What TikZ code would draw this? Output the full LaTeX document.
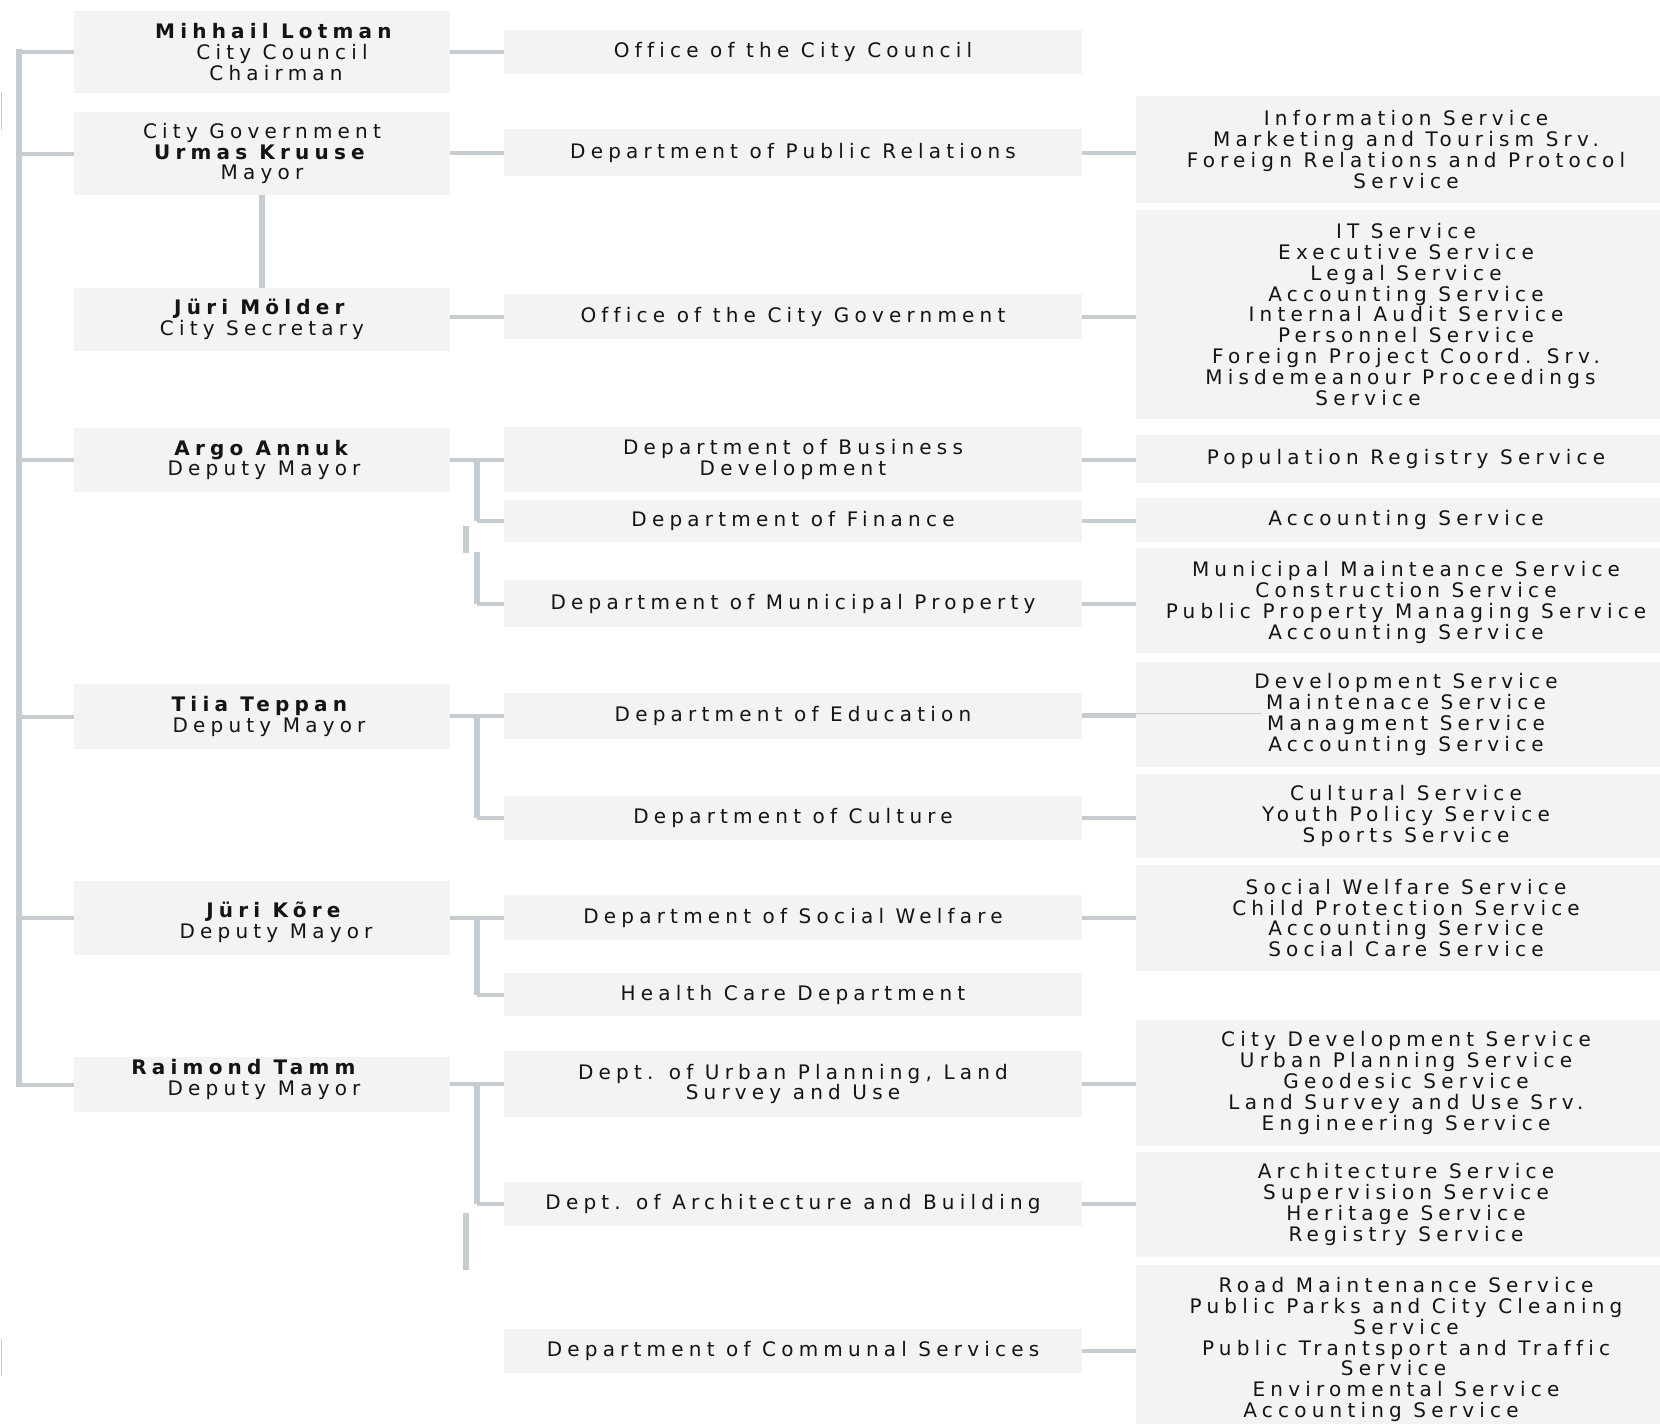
\documentclass[tikz,border=0pt]{standalone}
\usepackage{fontspec}
\setmainfont{DejaVu Sans}[LetterSpace=26, Ligatures=NoCommon]
\definecolor{boxfill}{HTML}{F3F3F3}
\definecolor{linec}{HTML}{C6CCD0}
\definecolor{txt}{HTML}{141414}
\newcommand\shft[2]{\hspace*{#1}#2\hspace*{-#1}}
\begin{document}
\begin{tikzpicture}[x=1pt,y=-1pt,
  font=\fontsize{20}{20.8}\selectfont,
  bx/.style={fill=boxfill, draw=none, inner sep=0pt},
  c1/.style={bx, minimum width=376pt},
  c2/.style={bx, minimum width=578pt},
  c3/.style={bx, minimum width=524pt},
  tx/.style={align=center, inner sep=0pt, text=txt},
  ln/.style={draw=linec, line width=4pt},
  vln/.style={draw=linec, line width=5.5pt},
  thin/.style={draw=linec, line width=1pt}]
\useasboundingbox (0,0) rectangle (1660,1424);
\fill[white] (0,0) rectangle (1660,1424);

% ---------- column 1
\node[c1, minimum height=82pt] (lotman) at (262,52) {};
\node[c1, minimum height=83pt] (citygov) at (262,153.5) {};
\node[c1, minimum height=63pt] (molder) at (262,319.5) {};
\node[c1, minimum height=64pt] (argo) at (262,460) {};
\node[c1, minimum height=65pt] (tiia) at (262,716.5) {};
\node[c1, minimum height=74pt] (kore) at (262,918) {};
\node[c1, minimum height=55pt] (tamm) at (262,1084.5) {};

\node[tx] (lotman-t) at ([xshift=14pt]lotman.center) {\textbf{Mihhail Lotman}\\\shft{12pt}{City Council}\\Chairman};
\node[tx] (citygov-t) at (citygov.center) {City Government\\\textbf{Urmas Kruuse}\\Mayor};
\node[tx] (molder-t) at (molder.center) {\textbf{Jüri Mölder}\\City Secretary};
\node[tx] (argo-t) at ([xshift=2pt]argo.center) {\textbf{Argo Annuk}\\Deputy Mayor};
\node[tx] (tiia-t) at (tiia.center) {\textbf{Tiia Teppan}\\\shft{7pt}{Deputy Mayor}};
\node[tx] (kore-t) at ([xshift=14pt,yshift=-4pt]kore.center) {\textbf{Jüri Kõre}\\Deputy Mayor};
\node[tx] (tamm-t) at ([xshift=2pt,yshift=5pt]tamm.center) {\shft{-18pt}{\textbf{Raimond Tamm}}\\Deputy Mayor};

% ---------- column 2
\node[c2, minimum height=44pt, tx] (occ) at (793,52) {Office of the City Council};
\node[c2, minimum height=47pt, tx] (dpr) at (793,152.5) {Department of Public Relations};
\node[c2, minimum height=45pt, tx] (ocg) at (793,316.5) {Office of the City Government};
\node[c2, minimum height=65pt, tx] (dbd) at (793,459.5) {Department of Business\\Development};
\node[c2, minimum height=42pt, tx] (df) at (793,521) {Department of Finance};
\node[c2, minimum height=47pt, tx] (dmp) at (793,603.5) {Department of Municipal Property};
\node[c2, minimum height=46pt, tx] (de) at (793,716) {Department of Education};
\node[c2, minimum height=44pt, tx] (dc) at (793,818) {Department of Culture};
\node[c2, minimum height=45pt, tx] (dsw) at (793,917.5) {Department of Social Welfare};
\node[c2, minimum height=43pt, tx] (hc) at (793,994.5) {Health Care Department};
\node[c2, minimum height=66pt, tx] (dup) at (793,1084) {Dept. of Urban Planning, Land\\Survey and Use};
\node[c2, minimum height=44pt, tx] (dab) at (793,1204) {Dept. of Architecture and Building};
\node[c2, minimum height=44pt, tx] (dcs) at (793,1351) {Department of Communal Services};

% ---------- column 3
\node[c3, minimum height=107pt] (info) at (1398,149.5) {};
\node[c3, minimum height=209pt] (it) at (1398,314.5) {};
\node[c3, minimum height=48pt] (pop) at (1398,459) {};
\node[c3, minimum height=44pt] (acc) at (1398,520) {};
\node[c3, minimum height=105pt] (mm) at (1398,600.5) {};
\node[c3, minimum height=105pt] (dev) at (1398,714.5) {};
\node[c3, minimum height=84pt] (cult) at (1398,816) {};
\node[c3, minimum height=106pt] (sw) at (1398,918) {};
\node[c3, minimum height=126pt] (cd) at (1398,1083) {};
\node[c3, minimum height=105pt] (arch) at (1398,1204.5) {};
\node[c3, minimum height=159pt] (road) at (1398,1344.5) {};

\node[tx] (info-t) at ([xshift=8pt]info.center) {Information Service\\Marketing and Tourism Srv.\\Foreign Relations and Protocol\\Service};
\node[tx] (it-t) at ([xshift=8pt]it.center) {IT Service\\Executive Service\\Legal Service\\Accounting Service\\Internal Audit Service\\Personnel Service\\Foreign Project Coord. Srv.\\\shft{-11pt}{Misdemeanour Proceedings}\\\shft{-38pt}{Service}};
\node[tx] (pop-t) at ([xshift=8pt]pop.center) {Population Registry Service};
\node[tx] (acc-t) at ([xshift=8pt]acc.center) {Accounting Service};
\node[tx] (mm-t) at ([xshift=8pt,yshift=-2pt]mm.center) {Municipal Mainteance Service\\Construction Service\\Public Property Managing Service\\Accounting Service};
\node[tx] (dev-t) at ([xshift=8pt]dev.center) {Development Service\\Maintenace Service\\Managment Service\\Accounting Service};
\node[tx] (cult-t) at ([xshift=8pt]cult.center) {Cultural Service\\Youth Policy Service\\Sports Service};
\node[tx] (sw-t) at ([xshift=8pt]sw.center) {Social Welfare Service\\Child Protection Service\\Accounting Service\\Social Care Service};
\node[tx] (cd-t) at ([xshift=8pt]cd.center) {City Development Service\\Urban Planning Service\\Geodesic Service\\Land Survey and Use Srv.\\Engineering Service};
\node[tx] (arch-t) at ([xshift=8pt]arch.center) {Architecture Service\\Supervision Service\\Heritage Service\\Registry Service};
\node[tx] (road-t) at ([xshift=8pt,yshift=-5pt]road.center) {Road Maintenance Service\\Public Parks and City Cleaning\\Service\\Public Trantsport and Traffic\\\shft{-25pt}{Service}\\Enviromental Service\\\shft{-25pt}{Accounting Service}};

% ---------- connectors
\coordinate (trunk) at (19,0);
\coordinate (bx) at (477,0);
\draw[vln, line cap=rect] (lotman.west -| trunk) -- (tamm.west -| trunk);
\foreach \n in {lotman,citygov,argo,tiia,kore,tamm}
  \draw[ln] (\n.west) -- (\n.west -| trunk);
\draw[vln] (citygov.south) -- (molder.north);

\draw[ln] (occ.west -| lotman.east) -- (occ.west);
\draw[ln] (dpr.west -| citygov.east) -- (dpr.west);
\draw[ln] (ocg.west -| molder.east) -- (ocg.west);

% Argo Annuk
\draw[ln] (dbd.west -| argo.east) -- (dbd.west);
\draw[vln] (dbd.west -| bx) -- (df.west -| bx);
\draw[ln] (df.west -| bx) -- (df.west);
\coordinate (s1a) at (466,526);
\coordinate (s1b) at (466,553);
\draw[vln] (s1a) -- (s1b);
\coordinate (s1c) at (477,552);
\draw[vln] (s1c) -- (dmp.west -| bx);
\draw[ln] (dmp.west -| bx) -- (dmp.west);

% Tiia Teppan
\draw[ln] (de.west -| tiia.east) -- (de.west);
\draw[vln] (de.west -| bx) -- (dc.west -| bx);
\draw[ln] (dc.west -| bx) -- (dc.west);

% Juri Kore
\draw[ln] (dsw.west -| kore.east) -- (dsw.west);
\draw[vln] (dsw.west -| bx) -- (hc.west -| bx);
\draw[ln] (hc.west -| bx) -- (hc.west);

% Raimond Tamm
\draw[ln] (dup.west -| tamm.east) -- (dup.west);
\draw[vln] (dup.west -| bx) -- (dab.west -| bx);
\draw[ln] (dab.west -| bx) -- (dab.west);
\coordinate (s2a) at (466,1213);
\coordinate (s2b) at (466,1270);
\draw[vln] (s2a) -- (s2b);

% column 2 -> column 3
\draw[ln] (dpr.east) -- (dpr.east -| info.west);
\draw[ln] (ocg.east) -- (ocg.east -| it.west);
\draw[ln] (dbd.east) -- (dbd.east -| pop.west);
\draw[ln] (df.east) -- (df.east -| acc.west);
\draw[ln] (dmp.east) -- (dmp.east -| mm.west);
\draw[ln] (de.east) -- (de.east -| dev.west);
\coordinate (devthin) at (1262,713);
\draw[thin, line width=0.6pt] (de.east |- devthin) -- (devthin);
\draw[ln] (dc.east) -- (dc.east -| cult.west);
\draw[ln] (dsw.east) -- (dsw.east -| sw.west);
\draw[ln] (dup.east) -- (dup.east -| cd.west);
\draw[ln] (dab.east) -- (dab.east -| arch.west);
\draw[ln] (dcs.east) -- (dcs.east -| road.west);

% stray edge marks
\coordinate (e1a) at (1.5,92); \coordinate (e1b) at (1.5,130);
\coordinate (e2a) at (1.5,1339); \coordinate (e2b) at (1.5,1376);
\draw[thin] (e1a) -- (e1b);
\draw[thin] (e2a) -- (e2b);
\end{tikzpicture}
\end{document}
